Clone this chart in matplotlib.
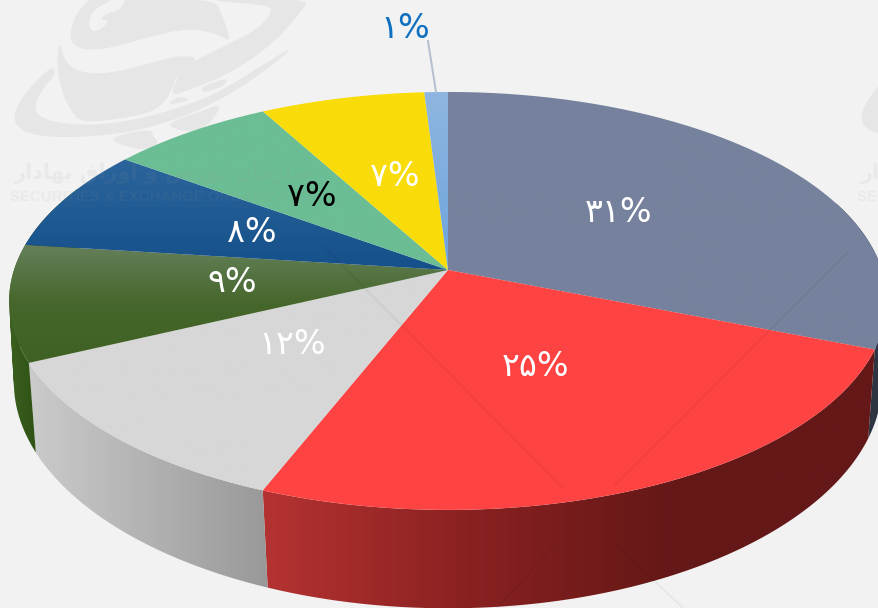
#!/usr/bin/env python3
"""3D-looking pie, redrawn with a small perspective projection onto pixel axes."""
import numpy as np
import matplotlib
matplotlib.use("Agg")
import matplotlib.pyplot as plt
from matplotlib.colors import to_rgb, LinearSegmentedColormap
from matplotlib.patches import Polygon, PathPatch
from matplotlib.path import Path

# data, clockwise from twelve o'clock
shares = [31, 25, 12, 9, 8, 7, 7, 1]
labels = ["۳۱%", "۲۵%", "۱۲%", "۹%", "۸%", "۷%", "۷%", "۱%"]
label_colors = ["white", "white", "white", "white", "white", "black", "white", "#0f6fc0"]
label_xy = [(619, 213), (536, 367), (292, 345), (232, 283), (252, 233), (312, 197), (395, 177), (405, 29)]

# top face colours, top to bottom in y, same order as shares
top_colors = [("#76829d", "#76829d"), ("#fe4343", "#fe4343"), ("#d7d7d7", "#d7d7d7"),
              ("#65805a", "#46672b", "#3f6124"), ("#2c659c", "#15508a"), ("#6bbd94", "#6bbd94"),
              ("#f9dc0a", "#f9dc0a"), ("#8fb6e0", "#6ca4dc")]
# side wall colours, left to right in x
wall_colors = [("#2c3442", "#2f3643"), ("#b53232", "#8a2121", "#641817", "#641817"),
               ("#cbcbcb", "#999999"), ("#3a5f1e", "#2f5316"), ("#2f5316", "#2f5316"),
               ("#4a8a6a", "#4a8a6a"), ("#b09a08", "#b09a08"), ("#5a80a8", "#5a80a8")]

BG = "#f2f2f2"
LOGO = "#e6e6e6"
CX, CY = 448.0, 270.0
RX, RY, PERSP = 434.0, 204.4, 0.148
WALL_DY, WALL_YS = 354.0, 1.06

logo_shapes = [
    [(210,100),(225,50),(255,10),(275,-5),(640,-5),(665,40),(695,130),(650,100),(560,85),(450,110),(330,145),(250,150),(215,130)],
    [(180,120),(170,180),(180,260),(210,330),(245,370),(400,350),(470,330),(510,285),(535,210),(600,175),(540,165),(450,190),(330,220),(250,220),(195,190)],
    [(160,195),(90,260),(40,335),(50,385),(120,410),(250,412),(400,395),(540,355),(660,300),(780,225),(895,130),(780,200),(660,275),(550,320),(400,362),(250,378),(130,360),(100,325),(125,270),(165,225)],
    [(810,15),(815,40),(770,90),(690,130),(600,175),(540,205),(530,240),(510,290),(580,265),(700,215),(820,130),(900,40),(930,-5),(650,-5),(650,5)],
    [(680,232),(678,255),(612,280),(600,262)],
    [(500,370),(530,390),(590,395),(640,360),(665,310),(600,335)],
    [(320,415),(450,385),(460,410),(480,430),(430,450),(380,440)],
    [(500,315),(530,290),(565,295),(560,305)],
]
logo_hole = [(265,70),(275,35),(315,10),(345,-5),(380,-5),(360,30),(320,40),(300,60),(330,60),(300,90),(275,95)]
mark_fa = "ﺭﺍﺩﺎﻬﺑ ﻕﺍﺭﻭﺍ ﻭ ﺱﺭﻮﺑ ﻥﺎﻣﺯﺎﺳ"
mark_en = "SECURITIES & EXCHANGE ORGANIZATION"
frame_lines = [((322, 245), (563, 488)), ((617, 545), (683, 608)),
               ((848, 252), (615, 485)), ((555, 545), (497, 608))]


def project(theta):
    """theta in degrees clockwise from top -> pixel x, y on the top face."""
    t = np.radians(theta)
    u, v = np.sin(t), np.cos(t)
    w = 1 + PERSP * v
    return CX + RX * u / w, CY - RY * v / w


def lower(theta, x, y):
    # the bottom rim shrinks a bit more towards the viewer than at the sides
    s = 0.992 + 0.02 * np.cos(np.radians(theta))
    return CX + s * (x - CX), WALL_DY + WALL_YS * (y - CY)


def fill_grad(ax, pts, stops, horizontal, z):
    """pts is a vertex array or a ready Path; paint a ramp clipped to it."""
    path = pts if isinstance(pts, Path) else Path(np.asarray(pts), closed=False)
    v = path.vertices
    x0, x1, y0, y1 = v[:, 0].min(), v[:, 0].max(), v[:, 1].min(), v[:, 1].max()
    cmap = LinearSegmentedColormap.from_list("g", [to_rgb(c) for c in stops])
    ramp = np.linspace(0, 1, 256)
    ramp = ramp[None, :] if horizontal else ramp[:, None]
    im = ax.imshow(ramp, cmap=cmap, extent=(x0, x1, y1, y0), aspect="auto",
                   origin="upper", interpolation="bilinear", zorder=z)
    im.set_clip_path(PathPatch(path, transform=ax.transData))


def wall_path(x, y, xl, yl):
    # one quad per step, all wound the same way, so the fold at the rim stays filled
    quads = []
    for i in range(len(x) - 1):
        q = [(x[i], y[i]), (x[i + 1], y[i + 1]), (xl[i + 1], yl[i + 1]), (xl[i], yl[i])]
        qx, qy = zip(*q)
        area = sum(qx[k] * qy[(k + 1) % 4] - qx[(k + 1) % 4] * qy[k] for k in range(4))
        if area < 0:
            q = q[::-1]
        quads.append(Path(q + [q[0]], closed=True))
    return Path.make_compound_path(*quads)


def smooth(pts, n=2):
    p = np.asarray(pts, float)
    for _ in range(n):
        q = np.roll(p, -1, axis=0)
        p = np.column_stack([0.75 * p + 0.25 * q, 0.25 * p + 0.75 * q]).reshape(-1, 2)
    return p


fig = plt.figure(figsize=(8.79, 6.08), dpi=100, facecolor=BG)
ax = fig.add_axes([0, 0, 1, 1])
ax.set_facecolor(BG)
ax.axis("off")

# watermark logos sit behind the pie
for dx in (0, 847):
    for shape in logo_shapes:
        p = smooth(np.array(shape) / 3.0 + (dx, 0))
        ax.add_patch(Polygon(p, closed=True, fc=LOGO, ec="none", zorder=1))
    ax.add_patch(Polygon(smooth(np.array(logo_hole) / 3.0 + (dx, 0)), closed=True, fc=BG, ec="none", zorder=1.1))

edges = np.cumsum([0] + shares) * 3.6

# side walls first
for i in range(len(shares)):
    a, b = max(edges[i], 70), min(edges[i + 1], 295)
    if b <= a:
        continue
    th = np.linspace(a, b, 90)
    x, y = project(th)
    xl, yl = lower(th, x, y)
    fill_grad(ax, wall_path(x, y, xl, yl), wall_colors[i], True, 2)

# then the top face
for i in range(len(shares)):
    th = np.linspace(edges[i], edges[i + 1], 200)
    x, y = project(th)
    pts = np.column_stack([np.r_[CX, x, CX], np.r_[CY, y, CY]])
    fill_grad(ax, pts, top_colors[i], False, 3)

# faint watermark overlay on top of everything
for dx in (0, 847):
    ax.text(164 + dx, 173, mark_fa, family="DejaVu Sans", fontsize=15, fontweight="bold",
            color="#999999", alpha=0.09, ha="center", va="center", zorder=4, clip_on=True)
    ax.text(166 + dx, 197, mark_en, family="Liberation Sans", fontsize=10.8, fontweight="bold",
            color="#999999", alpha=0.09, ha="center", va="center", zorder=4, clip_on=True)
for p0, p1 in frame_lines:
    ax.plot([p0[0], p1[0]], [p0[1], p1[1]], color="black", alpha=0.04, lw=1.6, zorder=4)

# leader for the small slice
ax.plot([428, 436], [41, 92], color="#b3bfce", lw=1.4, zorder=5)

for txt, col, (tx, ty) in zip(labels, label_colors, label_xy):
    ax.text(tx, ty, txt, family="DejaVu Sans", fontsize=24, color=col,
            ha="center", va="center", zorder=6)

ax.set_xlim(0, 879)
ax.set_ylim(608, 0)
fig.savefig("out.png", dpi=100, facecolor=BG)
